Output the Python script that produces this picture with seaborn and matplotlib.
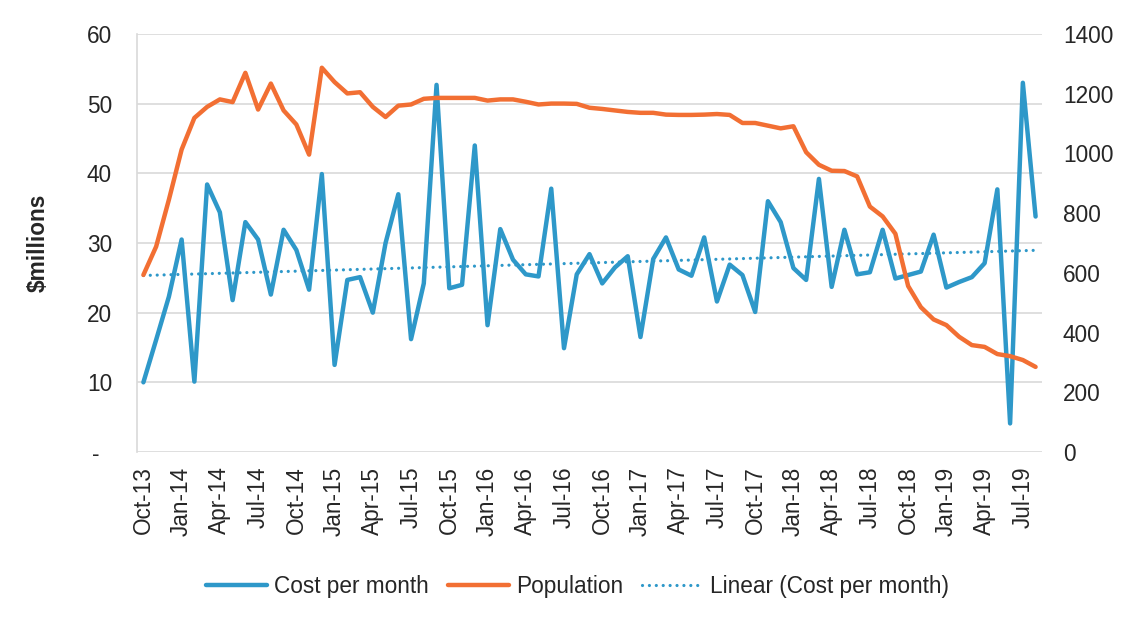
import numpy as np
import pandas as pd
import matplotlib
matplotlib.use("Agg")
import matplotlib.pyplot as plt
from matplotlib.ticker import FuncFormatter
import seaborn as sns

# ---- data ----
months = pd.date_range("2013-10-01", "2019-08-01", freq="MS")
month_labels = [d.strftime("%b-%y") for d in months]

cost_per_month = [
    10.0, 16.1, 22.3, 30.5, 10.1, 38.4, 34.4, 21.8, 33.0, 30.5, 22.6, 31.9,
    29.0, 23.3, 39.9, 12.5, 24.7, 25.1, 20.0, 30.0, 37.0, 16.2, 24.2, 52.7,
    23.5, 24.0, 44.0, 18.2, 32.0, 27.6, 25.5, 25.2, 37.8, 14.9, 25.5, 28.4,
    24.2, 26.5, 28.1, 16.5, 27.7, 30.8, 26.2, 25.3, 30.8, 21.6, 26.9, 25.4,
    20.1, 36.0, 33.0, 26.4, 24.7, 39.2, 23.7, 31.9, 25.5, 25.8, 31.9, 24.9,
    25.4, 25.9, 31.2, 23.6, 24.4, 25.1, 27.1, 37.7, 4.1, 53.0, 33.8,
]

population = [
    593, 688, 845, 1013, 1119, 1156, 1181, 1172, 1270, 1147, 1234, 1144,
    1097, 996, 1287, 1239, 1201, 1205, 1156, 1122, 1160, 1164, 1183, 1186,
    1186, 1186, 1186, 1177, 1181, 1181, 1173, 1164, 1167, 1167, 1166, 1153,
    1149, 1144, 1139, 1136, 1136, 1130, 1129, 1129, 1130, 1132, 1129, 1102,
    1102, 1093, 1084, 1091, 1004, 962, 942, 941, 923, 822, 789, 731,
    556, 485, 444, 425, 386, 358, 352, 328, 321, 308, 285,
]

left_ticks = [0, 10, 20, 30, 40, 50, 60]
right_ticks = [0, 200, 400, 600, 800, 1000, 1200, 1400]

# ---- styling ----
sns.set_style("white")
plt.rcParams["font.family"] = ["Liberation Sans", "DejaVu Sans"]

BLUE = "#2e98c9"
ORANGE = "#f26f33"
GRID = "#d9d9d9"
TEXT = "#262626"
FS = 16.3

x = np.arange(len(months))
df = pd.DataFrame({"idx": x, "cost": cost_per_month, "pop": population})
slope, intercept = np.polyfit(x, np.array(cost_per_month), 1)
df["trend"] = intercept + slope * x

fig = plt.figure(figsize=(11.39, 6.23), dpi=100)
ax = fig.add_axes([0.1203, 0.2745, 0.7945, 0.6709])
ax2 = ax.twinx()

sns.lineplot(data=df, x="idx", y="cost", ax=ax, color=BLUE, linewidth=3.2,
             label="Cost per month", legend=False, solid_joinstyle="round",
             solid_capstyle="round")
sns.lineplot(data=df, x="idx", y="trend", ax=ax, color=BLUE, linewidth=2.3,
             linestyle=(0, (0.01, 2.15)), dash_capstyle="round",
             label="Linear (Cost per month)", legend=False)
sns.lineplot(data=df, x="idx", y="pop", ax=ax2, color=ORANGE, linewidth=3.2,
             label="Population", legend=False, solid_joinstyle="round",
             solid_capstyle="round")

ax.set_xlim(-0.5, len(months) - 0.5)
ax.set_ylim(0, 60)
ax2.set_ylim(0, 1400)
ax.set_yticks(left_ticks)
ax2.set_yticks(right_ticks)
ax.yaxis.set_major_formatter(FuncFormatter(lambda v, p: "-  " if v == 0 else f"{v:.0f}"))

ax.set_xticks(x[::3])
ax.set_xticklabels(month_labels[::3], rotation=90)

ax.grid(axis="y", color=GRID, linewidth=1.2)
ax.set_axisbelow(True)
ax2.grid(False)
for a in (ax, ax2):
    for s in a.spines.values():
        s.set_visible(False)
ax.spines["left"].set_visible(True)
ax.spines["left"].set_color(GRID)
ax.spines["left"].set_linewidth(1.2)

ax.tick_params(axis="y", length=0, pad=18, labelsize=FS, labelcolor=TEXT)
ax.tick_params(axis="x", length=0, pad=10.5, labelsize=FS, labelcolor=TEXT)
ax2.tick_params(axis="y", length=0, pad=15, labelsize=FS, labelcolor=TEXT)

ax.set_xlabel("")
ax2.set_ylabel("")
ax.set_ylabel("$millions", fontsize=FS, fontweight="bold", color=TEXT, labelpad=27)

h1, l1 = ax.get_legend_handles_labels()
h2, l2 = ax2.get_legend_handles_labels()
handles = [h1[0], h2[0], h1[1]]
labels = [l1[0], l2[0], l1[1]]
fig.legend(handles, labels, loc="center", bbox_to_anchor=(0.507, 0.058), ncol=3,
           frameon=False, fontsize=FS, handlelength=2.7, handletextpad=0.3,
           columnspacing=0.85, labelcolor=TEXT)

fig.savefig("out.png", dpi=100)
